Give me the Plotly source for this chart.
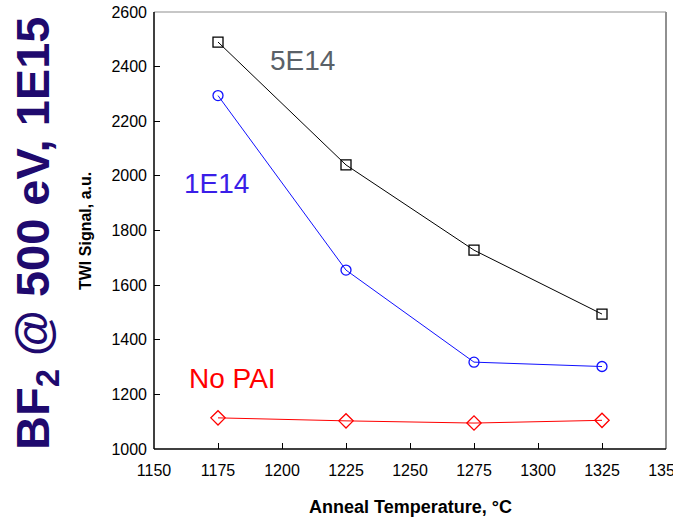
import plotly.graph_objects as go

temps = [1175, 1225, 1275, 1325]
s_5e14 = [2490, 2040, 1728, 1494]
s_1e14 = [2294, 1655, 1318, 1302]
s_nopai = [1114, 1103, 1095, 1105]

x_ticks = [1150, 1175, 1200, 1225, 1250, 1275, 1300, 1325, 1350]
y_ticks = [1000, 1200, 1400, 1600, 1800, 2000, 2200, 2400, 2600]

FONT = "Liberation Sans, Arial, sans-serif"

W, H = 673, 518
L, T, R, B = 154, 12, 7, 69
PW, PH = W - L - R, H - T - B


def px(xp):
    return (xp - L) / PW


def py(yp):
    return (H - B - yp) / PH


fig = go.Figure()
fig.add_trace(go.Scatter(x=temps, y=s_5e14, mode="lines+markers", name="5E14",
                         line=dict(color="black", width=1),
                         marker=dict(symbol="square-open", size=10, color="black", line=dict(width=1.3))))
fig.add_trace(go.Scatter(x=temps, y=s_1e14, mode="lines+markers", name="1E14",
                         line=dict(color="#1010ff", width=1),
                         marker=dict(symbol="circle-open", size=10, color="#1010ff", line=dict(width=1.3))))
fig.add_trace(go.Scatter(x=temps, y=s_nopai, mode="lines+markers", name="No PAI",
                         line=dict(color="#ff0000", width=1),
                         marker=dict(symbol="diamond-open", size=11, color="#ff0000", line=dict(width=1.3))))

fig.update_layout(
    width=W, height=H,
    margin=dict(l=L, r=R, t=T, b=B, autoexpand=False),
    paper_bgcolor="white", plot_bgcolor="white",
    showlegend=False,
    font=dict(family=FONT, size=16, color="black"),
    xaxis=dict(range=[1150, 1350], tickvals=x_ticks, automargin=False,
               ticks="inside", ticklen=6, tickcolor="black", tickwidth=1,
               showgrid=False, zeroline=False, showline=False,
               ticklabelstandoff=10, ticklabeloverflow="allow", tickfont=dict(size=16)),
    yaxis=dict(range=[1000, 2600], tickvals=y_ticks, automargin=False,
               ticks="inside", ticklen=6, tickcolor="black", tickwidth=1,
               showgrid=False, zeroline=False, showline=False,
               ticklabelstandoff=6, ticklabeloverflow="allow", tickfont=dict(size=16)),
    shapes=[
        dict(type="line", xref="paper", yref="paper", x0=0, x1=1, y0=1, y1=1, line=dict(color="#909090", width=1.2)),
        dict(type="line", xref="paper", yref="paper", x0=1, x1=1, y0=0, y1=1, line=dict(color="#909090", width=2)),
        dict(type="line", xref="paper", yref="paper", x0=0, x1=0, y0=0, y1=1, line=dict(color="black", width=1.5)),
        dict(type="line", xref="paper", yref="paper", x0=0, x1=1, y0=0, y1=0, line=dict(color="black", width=1.5)),
    ],
    annotations=[
        dict(text="5E14", x=px(302), y=py(61), xref="paper", yref="paper", showarrow=False,
             font=dict(size=28, color="#5a6168"), xanchor="center", yanchor="middle"),
        dict(text="1E14", x=px(216), y=py(184), xref="paper", yref="paper", showarrow=False,
             font=dict(size=28, color="#3a1ee8"), xanchor="center", yanchor="middle"),
        dict(text="No PAI", x=px(232), y=py(378), xref="paper", yref="paper", showarrow=False,
             font=dict(size=28, color="#ff0000"), xanchor="center", yanchor="middle"),
        dict(text="<b>BF<sub>2</sub> @ 500 eV, 1E15</b>", x=px(36), y=py(234),
             xref="paper", yref="paper", showarrow=False, textangle=-90,
             font=dict(size=47, color="#1f0a6e", family=FONT), xanchor="center", yanchor="middle"),
        dict(text="<b>TWI Signal, a.u.</b>", x=px(85), y=py(231),
             xref="paper", yref="paper", showarrow=False, textangle=-90,
             font=dict(size=16, color="black"), xanchor="center", yanchor="middle"),
        dict(text="<b>Anneal Temperature, °C</b>", x=px(410), y=py(507),
             xref="paper", yref="paper", showarrow=False,
             font=dict(size=18, color="black"), xanchor="center", yanchor="middle"),
    ],
)

fig.write_html(
    "out.html",
    config={"displayModeBar": False},
    post_script="document.body.style.margin='0px';document.body.style.overflow='hidden';",
)
